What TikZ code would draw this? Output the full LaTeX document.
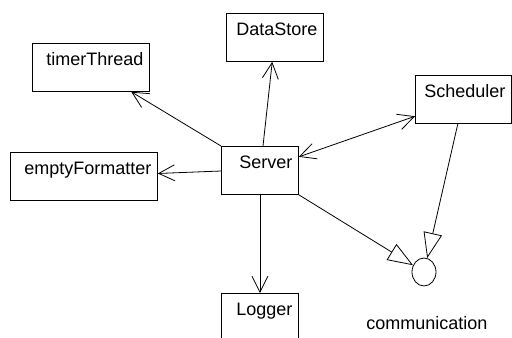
\documentclass[tikz,border=0pt]{standalone}
\usepackage{fontspec}
\setmainfont{Liberation Sans}
\usetikzlibrary{shapes.geometric, arrows.meta, positioning}
\tikzstyle{classbox} = [
rectangle, draw=black, line width=0.6pt, anchor=north west, align=right,
inner xsep=4.5pt, inner ysep=0pt, text height=16.5pt, text depth=19.5pt
]
\tikzstyle{iface} = [
ellipse, draw=black, line width=0.6pt, minimum width=18pt, minimum height=21pt, inner sep=0pt
]
\tikzstyle{arrow} = [line width=0.6pt, -{Straight Barb[length=12pt, width=12pt]}]
\tikzstyle{biarrow} = [line width=0.6pt, {Straight Barb[length=12pt, width=12pt]}-{Straight Barb[length=12pt, width=12pt]}]
\tikzstyle{realize} = [line width=0.6pt, -{Triangle[open, length=19pt, width=14pt]}]

\begin{document}
\begin{tikzpicture}[x=0.75pt, y=-0.75pt, font=\fontsize{13.5}{16}\selectfont]
			\useasboundingbox (0,0) rectangle (512,338);

			% Classes
			\node (Server) [classbox, text width=48.75pt] at (221,146) {Server};
			\node (timerThread) [classbox, text width=78.75pt] at (32,43) {timerThread};
			\node (DataStore) [classbox, text width=63.75pt] at (226,13) {DataStore};
			\node (emptyFormatter) [classbox, text width=101.25pt] at (10,152) {emptyFormatter};
			\node (Scheduler) [classbox, text width=63pt] at (415,75) {Scheduler};
			\node (Logger) [classbox, text width=48.75pt] at (221,293) {Logger};

			% Interface
			\node (communication) [iface] at (424,272) {};
			\node (communication_label) [anchor=base] at (427,330) {communication};

			% Associations
			\draw [arrow] (Server.north west) -- (timerThread);
			\draw [arrow] (Server.west |- 0,171) -- (emptyFormatter);
			\draw [arrow] (Server.north -| 263,0) -- (DataStore);
			\draw [biarrow] (Server) -- (Scheduler);
			\draw [arrow] (Server) -- (Logger);

			% Realizations
			\draw [realize] (Server.south east) -- (communication);
			\draw [realize] (Scheduler) -- (communication);

		\end{tikzpicture}
\end{document}
